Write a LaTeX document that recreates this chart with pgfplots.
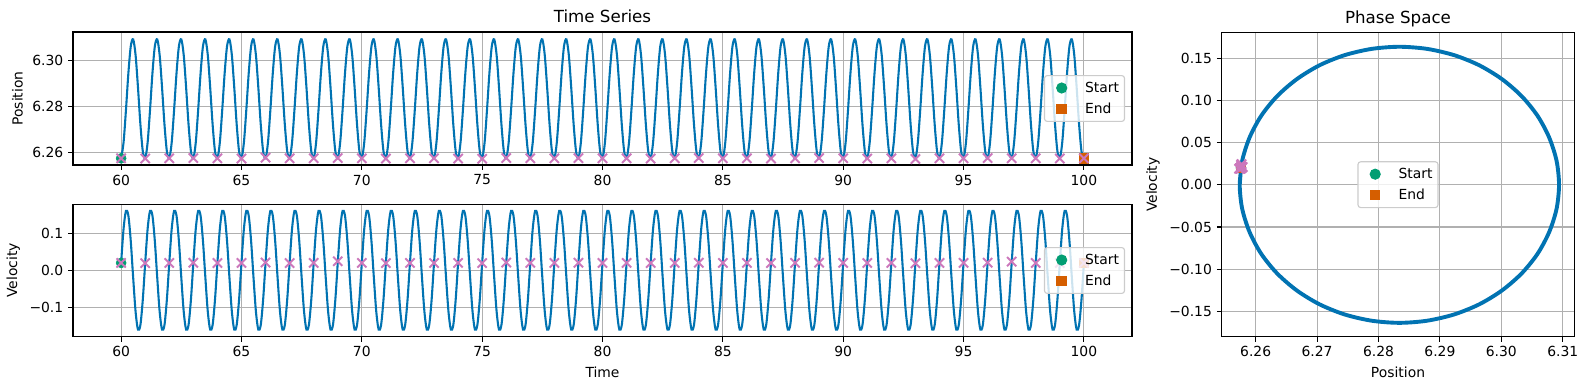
\documentclass[border=0pt]{standalone}
\usepackage{fontspec}
\setmainfont{DejaVu Sans}
\usepackage{pgfplots}
\pgfplotsset{compat=1.18}
\usepackage{pgfplotstable}

\definecolor{cblue}{RGB}{1,115,178}
\definecolor{cgreen}{RGB}{2,158,115}
\definecolor{corange}{RGB}{213,94,0}
\definecolor{cpink}{RGB}{204,120,188}
\definecolor{gridgray}{RGB}{176,176,176}
\definecolor{leggray}{RGB}{204,204,204}

\pgfplotstableread{
t x v
60.0 6.2576 0.0200
60.1 6.2644 0.1115
60.2 6.2785 0.1604
60.3 6.2944 0.1480
60.4 6.3062 0.0791
60.5 6.3092 -0.0200
60.6 6.3024 -0.1115
60.7 6.2883 -0.1604
60.8 6.2724 -0.1480
60.9 6.2607 -0.0791
61.0 6.2576 0.0200
61.1 6.2644 0.1115
61.2 6.2785 0.1604
61.3 6.2944 0.1480
61.4 6.3062 0.0791
61.5 6.3092 -0.0200
61.6 6.3024 -0.1115
61.7 6.2883 -0.1604
61.8 6.2724 -0.1480
61.9 6.2607 -0.0791
62.0 6.2576 0.0200
62.1 6.2644 0.1115
62.2 6.2785 0.1604
62.3 6.2944 0.1480
62.4 6.3062 0.0791
62.5 6.3092 -0.0200
62.6 6.3024 -0.1115
62.7 6.2883 -0.1604
62.8 6.2724 -0.1480
62.9 6.2607 -0.0791
63.0 6.2576 0.0200
63.1 6.2644 0.1115
63.2 6.2785 0.1604
63.3 6.2944 0.1480
63.4 6.3062 0.0791
63.5 6.3092 -0.0200
63.6 6.3024 -0.1115
63.7 6.2883 -0.1604
63.8 6.2724 -0.1480
63.9 6.2607 -0.0791
64.0 6.2576 0.0200
64.1 6.2644 0.1115
64.2 6.2785 0.1604
64.3 6.2944 0.1480
64.4 6.3062 0.0791
64.5 6.3092 -0.0200
64.6 6.3024 -0.1115
64.7 6.2883 -0.1604
64.8 6.2724 -0.1480
64.9 6.2607 -0.0791
65.0 6.2576 0.0200
65.1 6.2644 0.1115
65.2 6.2785 0.1604
65.3 6.2944 0.1480
65.4 6.3062 0.0791
65.5 6.3092 -0.0200
65.6 6.3024 -0.1115
65.7 6.2883 -0.1604
65.8 6.2724 -0.1480
65.9 6.2607 -0.0791
66.0 6.2576 0.0200
66.1 6.2644 0.1115
66.2 6.2785 0.1604
66.3 6.2944 0.1480
66.4 6.3062 0.0791
66.5 6.3092 -0.0200
66.6 6.3024 -0.1115
66.7 6.2883 -0.1604
66.8 6.2724 -0.1480
66.9 6.2607 -0.0791
67.0 6.2576 0.0200
67.1 6.2644 0.1115
67.2 6.2785 0.1604
67.3 6.2944 0.1480
67.4 6.3062 0.0791
67.5 6.3092 -0.0200
67.6 6.3024 -0.1115
67.7 6.2883 -0.1604
67.8 6.2724 -0.1480
67.9 6.2607 -0.0791
68.0 6.2576 0.0200
68.1 6.2644 0.1115
68.2 6.2785 0.1604
68.3 6.2944 0.1480
68.4 6.3062 0.0791
68.5 6.3092 -0.0200
68.6 6.3024 -0.1115
68.7 6.2883 -0.1604
68.8 6.2724 -0.1480
68.9 6.2607 -0.0791
69.0 6.2576 0.0200
69.1 6.2644 0.1115
69.2 6.2785 0.1604
69.3 6.2944 0.1480
69.4 6.3062 0.0791
69.5 6.3092 -0.0200
69.6 6.3024 -0.1115
69.7 6.2883 -0.1604
69.8 6.2724 -0.1480
69.9 6.2607 -0.0791
70.0 6.2576 0.0200
70.1 6.2644 0.1115
70.2 6.2785 0.1604
70.3 6.2944 0.1480
70.4 6.3062 0.0791
70.5 6.3092 -0.0200
70.6 6.3024 -0.1115
70.7 6.2883 -0.1604
70.8 6.2724 -0.1480
70.9 6.2607 -0.0791
71.0 6.2576 0.0200
71.1 6.2644 0.1115
71.2 6.2785 0.1604
71.3 6.2944 0.1480
71.4 6.3062 0.0791
71.5 6.3092 -0.0200
71.6 6.3024 -0.1115
71.7 6.2883 -0.1604
71.8 6.2724 -0.1480
71.9 6.2607 -0.0791
72.0 6.2576 0.0200
72.1 6.2644 0.1115
72.2 6.2785 0.1604
72.3 6.2944 0.1480
72.4 6.3062 0.0791
72.5 6.3092 -0.0200
72.6 6.3024 -0.1115
72.7 6.2883 -0.1604
72.8 6.2724 -0.1480
72.9 6.2607 -0.0791
73.0 6.2576 0.0200
73.1 6.2644 0.1115
73.2 6.2785 0.1604
73.3 6.2944 0.1480
73.4 6.3062 0.0791
73.5 6.3092 -0.0200
73.6 6.3024 -0.1115
73.7 6.2883 -0.1604
73.8 6.2724 -0.1480
73.9 6.2607 -0.0791
74.0 6.2576 0.0200
74.1 6.2644 0.1115
74.2 6.2785 0.1604
74.3 6.2944 0.1480
74.4 6.3062 0.0791
74.5 6.3092 -0.0200
74.6 6.3024 -0.1115
74.7 6.2883 -0.1604
74.8 6.2724 -0.1480
74.9 6.2607 -0.0791
75.0 6.2576 0.0200
75.1 6.2644 0.1115
75.2 6.2785 0.1604
75.3 6.2944 0.1480
75.4 6.3062 0.0791
75.5 6.3092 -0.0200
75.6 6.3024 -0.1115
75.7 6.2883 -0.1604
75.8 6.2724 -0.1480
75.9 6.2607 -0.0791
76.0 6.2576 0.0200
76.1 6.2644 0.1115
76.2 6.2785 0.1604
76.3 6.2944 0.1480
76.4 6.3062 0.0791
76.5 6.3092 -0.0200
76.6 6.3024 -0.1115
76.7 6.2883 -0.1604
76.8 6.2724 -0.1480
76.9 6.2607 -0.0791
77.0 6.2576 0.0200
77.1 6.2644 0.1115
77.2 6.2785 0.1604
77.3 6.2944 0.1480
77.4 6.3062 0.0791
77.5 6.3092 -0.0200
77.6 6.3024 -0.1115
77.7 6.2883 -0.1604
77.8 6.2724 -0.1480
77.9 6.2607 -0.0791
78.0 6.2576 0.0200
78.1 6.2644 0.1115
78.2 6.2785 0.1604
78.3 6.2944 0.1480
78.4 6.3062 0.0791
78.5 6.3092 -0.0200
78.6 6.3024 -0.1115
78.7 6.2883 -0.1604
78.8 6.2724 -0.1480
78.9 6.2607 -0.0791
79.0 6.2576 0.0200
79.1 6.2644 0.1115
79.2 6.2785 0.1604
79.3 6.2944 0.1480
79.4 6.3062 0.0791
79.5 6.3092 -0.0200
79.6 6.3024 -0.1115
79.7 6.2883 -0.1604
79.8 6.2724 -0.1480
79.9 6.2607 -0.0791
80.0 6.2576 0.0200
80.1 6.2644 0.1115
80.2 6.2785 0.1604
80.3 6.2944 0.1480
80.4 6.3062 0.0791
80.5 6.3092 -0.0200
80.6 6.3024 -0.1115
80.7 6.2883 -0.1604
80.8 6.2724 -0.1480
80.9 6.2607 -0.0791
81.0 6.2576 0.0200
81.1 6.2644 0.1115
81.2 6.2785 0.1604
81.3 6.2944 0.1480
81.4 6.3062 0.0791
81.5 6.3092 -0.0200
81.6 6.3024 -0.1115
81.7 6.2883 -0.1604
81.8 6.2724 -0.1480
81.9 6.2607 -0.0791
82.0 6.2576 0.0200
82.1 6.2644 0.1115
82.2 6.2785 0.1604
82.3 6.2944 0.1480
82.4 6.3062 0.0791
82.5 6.3092 -0.0200
82.6 6.3024 -0.1115
82.7 6.2883 -0.1604
82.8 6.2724 -0.1480
82.9 6.2607 -0.0791
83.0 6.2576 0.0200
83.1 6.2644 0.1115
83.2 6.2785 0.1604
83.3 6.2944 0.1480
83.4 6.3062 0.0791
83.5 6.3092 -0.0200
83.6 6.3024 -0.1115
83.7 6.2883 -0.1604
83.8 6.2724 -0.1480
83.9 6.2607 -0.0791
84.0 6.2576 0.0200
84.1 6.2644 0.1115
84.2 6.2785 0.1604
84.3 6.2944 0.1480
84.4 6.3062 0.0791
84.5 6.3092 -0.0200
84.6 6.3024 -0.1115
84.7 6.2883 -0.1604
84.8 6.2724 -0.1480
84.9 6.2607 -0.0791
85.0 6.2576 0.0200
85.1 6.2644 0.1115
85.2 6.2785 0.1604
85.3 6.2944 0.1480
85.4 6.3062 0.0791
85.5 6.3092 -0.0200
85.6 6.3024 -0.1115
85.7 6.2883 -0.1604
85.8 6.2724 -0.1480
85.9 6.2607 -0.0791
86.0 6.2576 0.0200
86.1 6.2644 0.1115
86.2 6.2785 0.1604
86.3 6.2944 0.1480
86.4 6.3062 0.0791
86.5 6.3092 -0.0200
86.6 6.3024 -0.1115
86.7 6.2883 -0.1604
86.8 6.2724 -0.1480
86.9 6.2607 -0.0791
87.0 6.2576 0.0200
87.1 6.2644 0.1115
87.2 6.2785 0.1604
87.3 6.2944 0.1480
87.4 6.3062 0.0791
87.5 6.3092 -0.0200
87.6 6.3024 -0.1115
87.7 6.2883 -0.1604
87.8 6.2724 -0.1480
87.9 6.2607 -0.0791
88.0 6.2576 0.0200
88.1 6.2644 0.1115
88.2 6.2785 0.1604
88.3 6.2944 0.1480
88.4 6.3062 0.0791
88.5 6.3092 -0.0200
88.6 6.3024 -0.1115
88.7 6.2883 -0.1604
88.8 6.2724 -0.1480
88.9 6.2607 -0.0791
89.0 6.2576 0.0200
89.1 6.2644 0.1115
89.2 6.2785 0.1604
89.3 6.2944 0.1480
89.4 6.3062 0.0791
89.5 6.3092 -0.0200
89.6 6.3024 -0.1115
89.7 6.2883 -0.1604
89.8 6.2724 -0.1480
89.9 6.2607 -0.0791
90.0 6.2576 0.0200
90.1 6.2644 0.1115
90.2 6.2785 0.1604
90.3 6.2944 0.1480
90.4 6.3062 0.0791
90.5 6.3092 -0.0200
90.6 6.3024 -0.1115
90.7 6.2883 -0.1604
90.8 6.2724 -0.1480
90.9 6.2607 -0.0791
91.0 6.2576 0.0200
91.1 6.2644 0.1115
91.2 6.2785 0.1604
91.3 6.2944 0.1480
91.4 6.3062 0.0791
91.5 6.3092 -0.0200
91.6 6.3024 -0.1115
91.7 6.2883 -0.1604
91.8 6.2724 -0.1480
91.9 6.2607 -0.0791
92.0 6.2576 0.0200
92.1 6.2644 0.1115
92.2 6.2785 0.1604
92.3 6.2944 0.1480
92.4 6.3062 0.0791
92.5 6.3092 -0.0200
92.6 6.3024 -0.1115
92.7 6.2883 -0.1604
92.8 6.2724 -0.1480
92.9 6.2607 -0.0791
93.0 6.2576 0.0200
93.1 6.2644 0.1115
93.2 6.2785 0.1604
93.3 6.2944 0.1480
93.4 6.3062 0.0791
93.5 6.3092 -0.0200
93.6 6.3024 -0.1115
93.7 6.2883 -0.1604
93.8 6.2724 -0.1480
93.9 6.2607 -0.0791
94.0 6.2576 0.0200
94.1 6.2644 0.1115
94.2 6.2785 0.1604
94.3 6.2944 0.1480
94.4 6.3062 0.0791
94.5 6.3092 -0.0200
94.6 6.3024 -0.1115
94.7 6.2883 -0.1604
94.8 6.2724 -0.1480
94.9 6.2607 -0.0791
95.0 6.2576 0.0200
95.1 6.2644 0.1115
95.2 6.2785 0.1604
95.3 6.2944 0.1480
95.4 6.3062 0.0791
95.5 6.3092 -0.0200
95.6 6.3024 -0.1115
95.7 6.2883 -0.1604
95.8 6.2724 -0.1480
95.9 6.2607 -0.0791
96.0 6.2576 0.0200
96.1 6.2644 0.1115
96.2 6.2785 0.1604
96.3 6.2944 0.1480
96.4 6.3062 0.0791
96.5 6.3092 -0.0200
96.6 6.3024 -0.1115
96.7 6.2883 -0.1604
96.8 6.2724 -0.1480
96.9 6.2607 -0.0791
97.0 6.2576 0.0200
97.1 6.2644 0.1115
97.2 6.2785 0.1604
97.3 6.2944 0.1480
97.4 6.3062 0.0791
97.5 6.3092 -0.0200
97.6 6.3024 -0.1115
97.7 6.2883 -0.1604
97.8 6.2724 -0.1480
97.9 6.2607 -0.0791
98.0 6.2576 0.0200
98.1 6.2644 0.1115
98.2 6.2785 0.1604
98.3 6.2944 0.1480
98.4 6.3062 0.0791
98.5 6.3092 -0.0200
98.6 6.3024 -0.1115
98.7 6.2883 -0.1604
98.8 6.2724 -0.1480
98.9 6.2607 -0.0791
99.0 6.2576 0.0200
99.1 6.2644 0.1115
99.2 6.2785 0.1604
99.3 6.2944 0.1480
99.4 6.3062 0.0791
99.5 6.3092 -0.0200
99.6 6.3024 -0.1115
99.7 6.2883 -0.1604
99.8 6.2724 -0.1480
99.9 6.2607 -0.0791
100.0 6.2576 0.0200
}\traj

% one loop of the orbit in phase space, sampled finely
\pgfplotstableread{
x v
6.2574 0.0000
6.2578 0.0284
6.2590 0.0559
6.2609 0.0817
6.2635 0.1050
6.2667 0.1251
6.2704 0.1415
6.2745 0.1535
6.2789 0.1609
6.2834 0.1634
6.2879 0.1609
6.2923 0.1535
6.2964 0.1415
6.3001 0.1251
6.3033 0.1050
6.3059 0.0817
6.3078 0.0559
6.3090 0.0284
6.3094 0.0000
6.3090 -0.0284
6.3078 -0.0559
6.3059 -0.0817
6.3033 -0.1050
6.3001 -0.1251
6.2964 -0.1415
6.2923 -0.1535
6.2879 -0.1609
6.2834 -0.1634
6.2789 -0.1609
6.2745 -0.1535
6.2704 -0.1415
6.2667 -0.1251
6.2635 -0.1050
6.2609 -0.0817
6.2590 -0.0559
6.2578 -0.0284
6.2574 0.0000
6.2578 0.0284
}\loopdata

\pgfplotstableread{
t x v
60 6.2576 0.0200
61 6.2575 0.0195
62 6.2576 0.0200
63 6.2577 0.0205
64 6.2576 0.0198
65 6.2575 0.0200
66 6.2579 0.0210
67 6.2576 0.0197
68 6.2576 0.0200
69 6.2577 0.0245
70 6.2576 0.0200
71 6.2575 0.0195
72 6.2576 0.0200
73 6.2576 0.0198
74 6.2575 0.0200
75 6.2574 0.0195
76 6.2577 0.0210
77 6.2576 0.0200
78 6.2576 0.0198
79 6.2577 0.0205
80 6.2576 0.0200
81 6.2576 0.0200
82 6.2575 0.0197
83 6.2576 0.0200
84 6.2577 0.0205
85 6.2576 0.0200
86 6.2576 0.0200
87 6.2575 0.0197
88 6.2576 0.0200
89 6.2577 0.0205
90 6.2576 0.0200
91 6.2575 0.0198
92 6.2576 0.0200
93 6.2573 0.0190
94 6.2576 0.0200
95 6.2576 0.0200
96 6.2577 0.0205
97 6.2576 0.0235
98 6.2576 0.0200
99 6.2575 0.0198
100 6.2576 0.0200
}\strobe

\pgfplotsset{
  mpl/.style={
    scale only axis,
    anchor=south west,
    axis line style={black, line width=0.8pt},
    tick align=outside,
    major tick length=3.5pt,
    tick style={black, line width=0.8pt},
    xtick pos=left, ytick pos=left,
    grid=major,
    major grid style={color=gridgray, line width=0.8pt},
    tick label style={font=\fontsize{10}{12}\selectfont},
    label style={font=\fontsize{10}{12}\selectfont},
    title style={font=\fontsize{12}{14}\selectfont, anchor=base, yshift=0.5pt},
    /pgf/number format/assume math mode=true,
    legend cell align=left,
    legend image code/.code={%
      \path (0pt,0pt) (20pt,0pt);
      \draw[#1] plot coordinates {(10pt,0pt)};},
    legend image post style={opacity=1},
    legend style={draw=leggray, line width=0.8pt, fill=white, fill opacity=0.8,
      text opacity=1, rounded corners=2pt,
      font=\fontsize{10}{12}\selectfont, inner xsep=2pt, inner ysep=2.5pt,
      row sep=2pt,
      /tikz/every odd column/.append style={column sep=4.4pt}},
  },
  curve/.style={color=cblue, line width=1.5pt, smooth, no markers},
  startm/.style={only marks, mark=*, mark size=3.6pt, color=cgreen, mark options={fill=cgreen, draw=cgreen}},
  endm/.style={only marks, mark=square*, mark size=3.4pt, color=corange, mark options={fill=corange, draw=corange}},
  strobem/.style={only marks, mark=x, mark size=4.7pt, color=cpink, mark options={line width=1.4pt}},
}

\begin{document}
\begin{tikzpicture}
\useasboundingbox (0,0) rectangle (1142.64pt,280.8pt);

% Time series: position
\begin{axis}[mpl,
  at={(52.56pt,162pt)}, width=762.5pt, height=95.76pt,
  xmin=58, xmax=102, ymin=6.2547, ymax=6.3124,
  xtick={60,65,70,75,80,85,90,95,100},
  ytick={6.26,6.28,6.30}, yticklabels={6.26,6.28,6.30},
  ylabel={Position}, title={Time Series},
  legend style={at={(1,0.5)}, anchor=east, xshift=-5pt},
]
\addplot[curve, forget plot] table[x=t, y=x] {\traj};
\addplot[startm] coordinates {(60,6.2576)};
\addlegendentry{Start}
\addplot[endm] coordinates {(100,6.2576)};
\addlegendentry{End}
\addplot[strobem, forget plot] table[x=t, y=x] {\strobe};
\end{axis}

% Time series: velocity
\begin{axis}[mpl,
  at={(52.56pt,38.38pt)}, width=762.5pt, height=95.3pt,
  xmin=58, xmax=102, ymin=-0.1795, ymax=0.1784,
  xtick={60,65,70,75,80,85,90,95,100},
  ytick={-0.1,0,0.1}, yticklabels={−0.1,0.0,0.1},
  xlabel={Time}, ylabel={Velocity},
  legend style={at={(1,0.5)}, anchor=east, xshift=-5pt},
]
\addplot[curve, forget plot] table[x=t, y=v] {\traj};
\addplot[startm] coordinates {(60,0.0200)};
\addlegendentry{Start}
\addplot[endm] coordinates {(100,0.0200)};
\addlegendentry{End}
\addplot[strobem, forget plot] table[x=t, y=v] {\strobe};
\end{axis}

% Phase space
\begin{axis}[mpl,
  at={(879.6pt,38.38pt)}, width=253.9pt, height=218.9pt,
  xmin=6.25446, xmax=6.31189, ymin=-0.1798, ymax=0.1801,
  xtick={6.26,6.27,6.28,6.29,6.30,6.31},
  xticklabels={6.26,6.27,6.28,6.29,6.30,6.31},
  ytick={-0.15,-0.10,-0.05,0,0.05,0.10,0.15},
  yticklabels={−0.15,−0.10,−0.05,0.00,0.05,0.10,0.15},
  xlabel={Position}, ylabel={Velocity}, title={Phase Space},
  legend style={at={(0.5,0.5)}, anchor=center},
]
\addplot[color=cblue, line width=2.8pt, smooth, no markers, forget plot] table[x=x, y=v] {\loopdata};
\addplot[startm] coordinates {(6.2576,0.0200)};
\addlegendentry{Start}
\addplot[endm] coordinates {(6.2576,0.0200)};
\addlegendentry{End}
\addplot[strobem, forget plot] table[x=x, y=v] {\strobe};
\end{axis}
\end{tikzpicture}
\end{document}
